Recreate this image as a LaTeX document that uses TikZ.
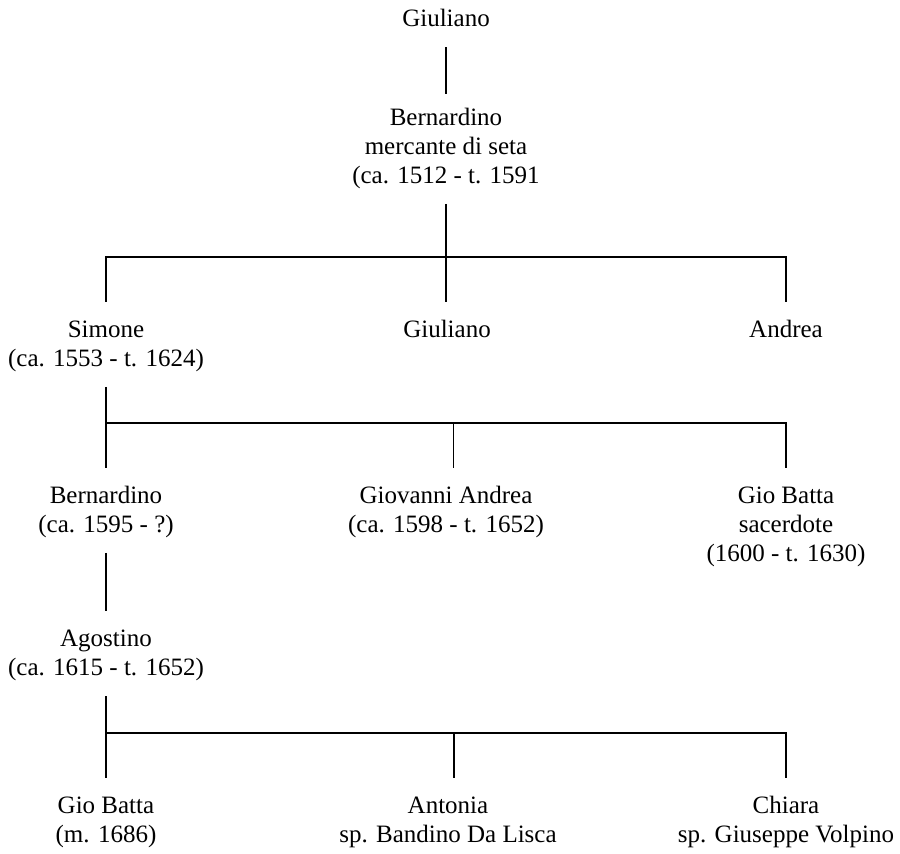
\documentclass[tikz,border=0pt]{standalone}
\usepackage{fontspec}
\setmainfont{Liberation Serif}
\usetikzlibrary{positioning, calc}

\begin{document}
\begin{tikzpicture}[
    x=0.5pt, y=-0.5pt,
    every node/.style={font=\fontsize{12.5}{14.5}\selectfont},
    person/.style={anchor=north, inner sep=0pt, outer sep=0pt, align=center},
    stem/.style={line width=0.55pt, shorten <=6pt},
    drop/.style={line width=0.55pt, shorten >=7.5pt}
    ]
    \useasboundingbox (0,0) rectangle (900,854);

    % Root
    \node[person] (root) at (446,6.5) {\strut Giuliano\strut};
    \node[person] (n1) at (446,105) {\strut Bernardino\\ mercante di seta\\ (ca. 1512 - t. 1591\strut};

    % Sons of Bernardino
    \node[person] (s1) at (106,317) {\strut Simone\\ (ca. 1553 - t. 1624)\strut};
    \node[person] (s2) at (447,317) {\strut Giuliano\strut};
    \node[person] (s3) at (786,317) {\strut Andrea\strut};

    % Sons of Simone
    \node[person] (t1) at (106,483) {\strut Bernardino\\ (ca. 1595 - ?)\strut};
    \node[person] (t2) at (446,483) {\strut Giovanni Andrea\\ (ca. 1598 - t. 1652)\strut};
    \node[person] (t3) at (786,483) {\strut Gio Batta\\ sacerdote\\ (1600 - t. 1630)\strut};

    \node[person] (n2) at (106,626.5) {\strut Agostino\\ (ca. 1615 - t. 1652)\strut};

    % Children of Agostino
    \node[person] (l1) at (106,793) {\strut Gio Batta\\ (m. 1686)\strut};
    \node[person] (l2) at (448,793) {\strut Antonia\\ sp. Bandino Da Lisca\strut};
    \node[person] (l3) at (786,793) {\strut Chiara\\ sp. Giuseppe Volpino\strut};

    \coordinate (f1) at (446,257);
    \coordinate (f2) at (106,423);
    \coordinate (f3) at (106,733);

    \draw[stem, shorten >=5.5pt] (root) -- (n1);
    \draw[stem] (n1) -- (f1);
    \draw[drop] (f1) -| (s1.north);
    \draw[drop] (f1) -- (f1 |- s2.north);
    \draw[drop] (f1) -| (s3.north);

    \draw[stem] (s1) -- (f2);
    \draw[drop] (f2) -- (t1.north);
    \draw[drop] (f2) -| ([xshift=3.7pt]t2.north);
    \draw[drop] (f2) -| (t3.north);

    \draw[stem, shorten >=7.5pt] (t1) -- (n2);
    \draw[stem] (n2) -- (f3);
    \draw[drop] (f3) -- (l1.north);
    \draw[drop] (f3) -| ([xshift=3pt]l2.north);
    \draw[drop] (f3) -| (l3.north);
\end{tikzpicture}
\end{document}
